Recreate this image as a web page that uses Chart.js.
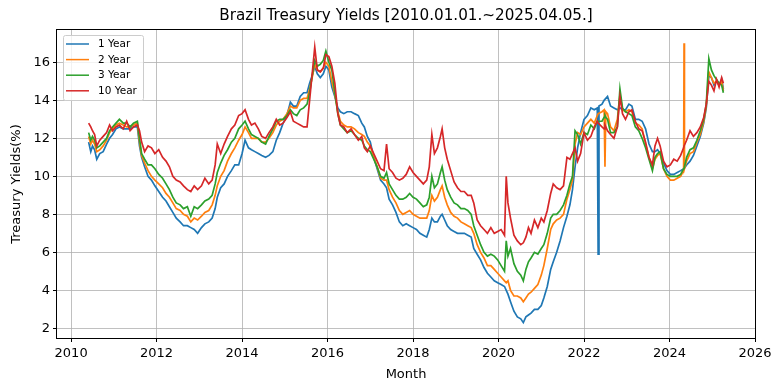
<!DOCTYPE html>
<html>
<head>
<meta charset="utf-8">
<script src="https://cdn.jsdelivr.net/npm/chart.js@4.4.1/dist/chart.umd.min.js"></script>
<style>
  body { margin: 0; background: #fff; }
  #wrap { width: 782px; height: 391px; }
</style>
</head>
<body>
<div id="wrap"><canvas id="myChart" width="782" height="391"></canvas></div>
<script>
// dates as decimal years
let fechas = [
  2010.41, 2010.46, 2010.50, 2010.55, 2010.60, 2010.67, 2010.75, 2010.83, 2010.90, 2010.97,
  2011.05, 2011.13, 2011.22, 2011.30, 2011.38, 2011.46, 2011.55, 2011.60, 2011.65, 2011.72, 2011.80, 2011.88, 2011.96,
  2012.05, 2012.14, 2012.22, 2012.30, 2012.38, 2012.46, 2012.55, 2012.63, 2012.72, 2012.80, 2012.88, 2012.96,
  2013.05, 2013.13, 2013.22, 2013.30, 2013.37, 2013.42, 2013.50, 2013.58, 2013.66, 2013.75, 2013.83, 2013.92,
  2014.00, 2014.07, 2014.15, 2014.22, 2014.30, 2014.38, 2014.46, 2014.55, 2014.63, 2014.72, 2014.80, 2014.88, 2014.96,
  2015.05, 2015.13, 2015.20, 2015.28, 2015.36, 2015.44, 2015.52, 2015.58, 2015.64, 2015.70, 2015.76, 2015.83, 2015.90, 2015.96,
  2016.03, 2016.10, 2016.17, 2016.24, 2016.30, 2016.38, 2016.46, 2016.55, 2016.63, 2016.72, 2016.80, 2016.86, 2016.93,
  2017.00, 2017.08, 2017.16, 2017.24, 2017.32, 2017.38, 2017.44, 2017.52, 2017.60, 2017.68, 2017.76, 2017.84, 2017.92,
  2018.00, 2018.08, 2018.16, 2018.24, 2018.32, 2018.38, 2018.44, 2018.50, 2018.57, 2018.64, 2018.68, 2018.74, 2018.80, 2018.88, 2018.96,
  2019.04, 2019.12, 2019.20, 2019.28, 2019.36, 2019.42, 2019.50, 2019.58, 2019.66, 2019.74, 2019.82, 2019.90, 2019.98,
  2020.06, 2020.14, 2020.18, 2020.22, 2020.28, 2020.36, 2020.44, 2020.52, 2020.58, 2020.64, 2020.70, 2020.76, 2020.84, 2020.92,
  2021.00, 2021.06, 2021.14, 2021.22, 2021.28, 2021.36, 2021.44, 2021.52, 2021.60, 2021.67, 2021.73, 2021.79, 2021.85, 2021.92,
  2022.00, 2022.08, 2022.16, 2022.24, 2022.31, 2022.33, 2022.35, 2022.42, 2022.47, 2022.49, 2022.51, 2022.55, 2022.62, 2022.70, 2022.78, 2022.84, 2022.90, 2022.97,
  2023.05, 2023.12, 2023.20, 2023.28, 2023.36, 2023.44, 2023.52, 2023.60, 2023.66, 2023.72, 2023.78, 2023.86, 2023.94,
  2024.02, 2024.10, 2024.18, 2024.26, 2024.33, 2024.34, 2024.35, 2024.40, 2024.48, 2024.56, 2024.64, 2024.72, 2024.80, 2024.86, 2024.92, 2024.98,
  2025.04, 2025.10, 2025.16, 2025.22, 2025.26
];

let y1 = [
  11.8, 11.3, 11.6, 11.4, 10.9, 11.2, 11.3, 11.7, 12.0, 12.2,
  12.5, 12.6, 12.5, 12.5, 12.5, 12.6, 12.6, 11.6, 11.0, 10.5, 10.0, 9.8, 9.5,
  9.2, 8.9, 8.7, 8.4, 8.1, 7.8, 7.6, 7.4, 7.4, 7.3, 7.2, 7.0,
  7.3, 7.5, 7.6, 7.8, 8.3, 8.9, 9.4, 9.6, 10.0, 10.3, 10.6, 10.6,
  11.2, 11.9, 11.5, 11.4, 11.3, 11.2, 11.1, 11.0, 11.1, 11.3, 11.9, 12.3, 12.8,
  13.2, 13.9, 13.7, 13.7, 14.2, 14.4, 14.4, 14.9, 15.3, 15.8, 15.4, 15.2, 15.4, 15.8,
  15.6, 14.7, 14.2, 13.6, 13.4, 13.3, 13.4, 13.4, 13.3, 13.2, 12.8, 12.6, 12.1,
  11.8, 11.0, 10.4, 9.8, 9.6, 9.4, 8.8, 8.5, 8.1, 7.6, 7.4, 7.5, 7.4,
  7.3, 7.2, 7.0, 6.9, 6.8, 7.2, 7.8, 7.6, 7.6, 7.9, 8.0, 7.7, 7.4, 7.2, 7.1,
  7.0, 7.0, 7.0, 6.9, 6.8, 6.2, 5.9, 5.6, 5.2, 4.9, 4.7, 4.5, 4.4,
  4.3, 4.2, 4.0, 3.8, 3.4, 2.9, 2.6, 2.5, 2.3, 2.6, 2.7, 2.8, 3.0, 3.0,
  3.2, 3.6, 4.2, 5.1, 5.5, 6.0, 6.6, 7.3, 7.9, 8.5, 9.3, 10.5, 11.5, 12.3,
  13.0, 13.2, 13.6, 13.5, 13.6, 5.9, 13.7, 13.8, 14.0, 14.0, 14.1, 14.2, 13.7, 13.6, 13.5, 13.6, 13.5, 13.5,
  13.8, 13.7, 13.0, 13.0, 12.9, 12.5, 11.7, 11.3, 11.3, 11.4, 11.2, 10.7, 10.3,
  10.1, 10.1, 10.2, 10.3, 10.4, 10.4, 10.4, 10.6, 10.8, 11.1, 11.6, 12.1, 12.8, 13.6, 15.3, 15.2,
  14.8, 15.0, 14.8, 15.1, 14.6
];

let y2 = [
  12.1, 11.7, 11.9, 11.7, 11.3, 11.4, 11.6, 11.9, 12.3, 12.5,
  12.7, 12.8, 12.7, 12.6, 12.6, 12.7, 12.8, 11.8, 11.1, 10.7, 10.3, 10.0, 9.8,
  9.6, 9.4, 9.1, 8.9, 8.6, 8.3, 8.2, 8.0, 7.9, 7.6, 7.8, 7.7,
  7.9, 8.1, 8.2, 8.5, 9.0, 9.5, 10.0, 10.3, 10.8, 11.2, 11.5, 11.9,
  12.2, 12.6, 12.3, 12.0, 12.0, 12.0, 11.8, 11.8, 12.0, 12.3, 12.7, 12.9, 13.0,
  13.3, 13.7, 13.6, 13.6, 14.0, 14.1, 14.1, 14.6, 15.2, 15.9, 15.6, 15.5, 15.7, 16.0,
  15.8, 15.0, 14.3, 13.4, 12.9, 12.7, 12.6, 12.6, 12.5, 12.3, 12.2, 12.1, 11.8,
  11.6, 11.0, 10.5, 9.9, 9.8, 9.8, 9.3, 8.9, 8.6, 8.2, 8.0, 8.1, 8.2,
  8.0, 7.9, 7.8, 7.8, 7.8, 8.2, 9.0, 8.7, 8.9, 9.3, 9.5, 8.9, 8.5, 8.1, 7.9,
  7.8, 7.6, 7.5, 7.4, 7.3, 7.0, 6.4, 6.0, 5.7, 5.3, 5.3, 5.1, 4.9,
  4.7, 4.5, 4.4, 4.5, 4.0, 3.7, 3.7, 3.6, 3.4, 3.6, 3.8, 3.9, 4.1, 4.3,
  4.8, 5.3, 6.2, 7.2, 7.5, 7.7, 7.8, 8.0, 8.8, 9.3, 9.8, 11.7, 12.3, 12.2,
  12.6, 12.8, 13.0, 12.8, 13.2, 13.3, 13.3, 13.4, 13.5, 10.5, 13.4, 13.3, 12.6, 12.4, 13.0, 14.3, 13.5, 13.4,
  13.5, 13.4, 12.8, 12.7, 12.5, 11.7, 11.0, 10.4, 10.9, 11.1, 11.2, 10.4, 10.0,
  9.8, 9.8, 9.9, 10.0, 10.3, 17.0, 10.4, 10.8, 11.2, 11.3, 11.8, 12.2, 12.9, 13.7, 15.5, 15.2,
  14.9, 15.0, 14.8, 15.0, 14.5
];

let y3 = [
  12.3, 11.9, 12.1, 11.9, 11.5, 11.6, 11.8, 12.0, 12.4, 12.6,
  12.8, 13.0, 12.8, 12.8, 12.6, 12.8, 12.9, 12.0, 11.2, 10.9, 10.6, 10.6, 10.4,
  10.1, 9.9, 9.6, 9.3, 8.9, 8.6, 8.5, 8.3, 8.4, 7.9, 8.4, 8.3,
  8.5, 8.7, 8.8, 9.0, 9.6, 10.2, 10.7, 11.1, 11.4, 11.8, 12.0, 12.5,
  12.7, 12.9, 12.5, 12.2, 12.1, 12.0, 11.8, 11.7, 12.1, 12.5, 12.9, 13.0, 13.0,
  13.2, 13.5, 13.3, 13.2, 13.5, 13.6, 13.8, 14.4, 15.3, 16.1, 15.8, 15.9, 16.1, 16.6,
  16.0, 15.6, 14.4, 13.3, 12.7, 12.5, 12.3, 12.4, 12.2, 12.0, 11.9, 11.6, 11.4,
  11.3, 10.9, 10.5, 10.0, 9.9, 10.2, 9.6, 9.3, 9.0, 8.8, 8.8, 8.9, 9.1,
  8.9, 8.8, 8.6, 8.4, 8.5, 8.9, 10.0, 9.4, 9.6, 10.2, 10.5, 9.8, 9.3, 8.9, 8.6,
  8.5, 8.3, 8.3, 8.2, 8.0, 7.4, 6.9, 6.4, 6.0, 5.8, 5.9, 5.8, 5.6,
  5.3, 5.0, 6.6, 5.8, 6.2, 5.4, 5.0, 4.8, 4.5, 5.1, 5.5, 5.7, 6.0, 5.9,
  6.2, 6.4, 7.0, 7.8, 8.0, 8.0, 8.2, 8.5, 9.0, 9.6, 10.0, 12.4, 12.2, 11.7,
  12.3, 12.2, 12.7, 12.5, 12.9, 12.9, 12.9, 12.9, 13.1, 13.2, 13.1, 13.0, 12.3, 12.3, 12.6, 14.6, 13.6, 13.4,
  13.3, 13.2, 12.6, 12.4, 12.0, 11.5, 10.9, 10.3, 11.0, 11.2, 11.3, 10.4, 10.1,
  10.0, 10.0, 10.0, 10.1, 10.4, 10.4, 10.4, 11.0, 11.4, 11.5, 11.9, 12.4, 13.0, 13.8, 16.2, 15.6,
  15.3, 15.1, 14.9, 14.8, 14.4
];

let y10 = [
  12.8, 12.6, 12.4, 12.2, 11.6, 11.9, 12.1, 12.3, 12.7, 12.4,
  12.6, 12.7, 12.5, 12.9, 12.4, 12.6, 12.7, 12.4, 11.8, 11.3, 11.6, 11.5, 11.2,
  11.4, 11.0, 10.8, 10.5, 10.0, 9.8, 9.7, 9.5, 9.3, 9.2, 9.5, 9.3,
  9.5, 9.9, 9.6, 9.8, 10.6, 11.7, 11.2, 11.7, 12.1, 12.5, 12.7, 13.2,
  13.3, 13.5, 13.0, 12.7, 12.8, 12.5, 12.1, 12.0, 12.3, 12.6, 13.0, 12.7, 12.8,
  13.1, 13.4, 12.9, 12.8, 12.7, 12.6, 12.6, 14.0, 15.4, 16.8, 15.6, 15.5, 15.7, 16.4,
  16.3, 15.8, 14.9, 13.3, 12.7, 12.6, 12.3, 12.5, 12.2, 11.9, 12.1, 11.5, 11.3,
  11.6, 11.2, 10.8, 10.4, 10.3, 11.7, 10.4, 10.2, 9.9, 9.8, 9.9, 10.1, 10.5,
  10.2, 10.0, 9.8, 9.6, 9.8, 10.5, 12.2, 11.2, 11.5, 12.1, 12.5, 11.5, 10.9, 10.3, 9.7,
  9.4, 9.2, 9.2, 9.0, 9.0, 8.6, 7.7, 7.4, 7.2, 7.0, 7.3, 7.0, 7.1,
  7.2, 6.9, 10.0, 8.6, 7.8, 6.9, 6.6, 6.4, 6.5, 6.8, 7.3, 7.0, 7.7, 7.3,
  7.8, 7.6, 8.2, 9.1, 9.6, 9.4, 9.3, 9.5, 11.0, 10.9, 11.2, 11.5, 10.8, 11.2,
  12.3, 11.9, 12.1, 12.6, 12.9, 12.8, 12.8, 12.6, 12.5, 12.7, 12.6, 12.4, 12.2, 12.0, 12.6, 14.2, 13.3, 13.0,
  13.4, 13.5, 12.9, 12.5, 12.4, 11.8, 11.0, 10.6, 11.6, 12.0, 11.6, 10.8, 10.5,
  10.6, 10.9, 10.8, 11.1, 11.5, 11.6, 11.6, 11.9, 12.4, 12.1, 12.3, 12.6, 13.1, 13.8, 15.0, 14.8,
  14.5, 15.1, 14.7, 15.2, 14.9
];

let etiquetas = ['1 Year', '2 Year', '3 Year', '10 Year'];
let colores = ['#1f77b4', '#ff7f0e', '#2ca02c', '#d62728'];
let series = [y1, y2, y3, y10];
let ticksX = [2010, 2012, 2014, 2016, 2018, 2020, 2022, 2024, 2026];
let ticksY = [2, 4, 6, 8, 10, 12, 14, 16];

const fuente = 'DejaVu Sans';

// frame and legend like matplotlib
const marco = {
  id: 'marco',
  afterDatasetsDraw(chart) {
    const ctx = chart.ctx;
    const a = chart.chartArea;
    ctx.save();
    ctx.strokeStyle = '#000';
    ctx.lineWidth = 1;
    ctx.strokeRect(Math.round(a.left) - 0.5, Math.round(a.top) - 0.5, Math.round(a.right - a.left) + 1, Math.round(a.bottom - a.top) + 1);

    // legend box
    const bx = 63.5, by = 35.5, bw = 80, bh = 65;
    ctx.beginPath();
    ctx.roundRect(bx, by, bw, bh, 2);
    ctx.fillStyle = 'rgba(255,255,255,0.8)';
    ctx.fill();
    ctx.strokeStyle = '#cccccc';
    ctx.stroke();
    ctx.font = '10.5px "' + fuente + '"';
    ctx.textBaseline = 'middle';
    ctx.textAlign = 'left';
    for (let i = 0; i < etiquetas.length; i++) {
      const yy = 44 + i * 15.6;
      ctx.beginPath();
      ctx.moveTo(66, yy);
      ctx.lineTo(89, yy);
      ctx.strokeStyle = colores[i];
      ctx.lineWidth = 1.5;
      ctx.stroke();
      ctx.fillStyle = '#000';
      ctx.fillText(etiquetas[i], 98, yy + 0.5);
    }
    ctx.restore();
  }
};

let datasets = [];
for (let i = 0; i < series.length; i++) {
  datasets.push({
    label: etiquetas[i],
    data: fechas.map((f, k) => ({ x: f, y: series[i][k] })),
    borderColor: colores[i],
    backgroundColor: colores[i],
    borderWidth: 1.7,
    pointRadius: 0,
    tension: 0,
    order: series.length - i
  });
}

let ctx = document.getElementById('myChart').getContext('2d');
let chart = new Chart(ctx, {
  type: 'line',
  data: { datasets: datasets },
  plugins: [marco],
  options: {
    responsive: false,
    devicePixelRatio: 1,
    animation: false,
    layout: { padding: { left: 0, right: 27, top: 0, bottom: 0 } },
    plugins: {
      legend: { display: false },
      tooltip: { enabled: false },
      title: {
        display: true,
        text: 'Brazil Treasury Yields [2010.01.01.~2025.04.05.]',
        color: '#000',
        fullSize: false,
        font: { family: fuente, size: 15.2, weight: 'normal' },
        padding: { top: 7.4, bottom: 4.4 }
      }
    },
    scales: {
      x: {
        type: 'linear',
        min: 2009.67,
        max: 2026.0,
        afterBuildTicks: (axis) => { axis.ticks = ticksX.map(v => ({ value: v })); },
        afterFit: (axis) => { axis.height = 53; },
        ticks: {
          color: '#000',
          font: { family: fuente, size: 13 },
          padding: 4,
          maxRotation: 0,
          callback: (v) => String(v)
        },
        grid: { color: '#b0b0b0', lineWidth: 0.8, tickColor: '#000', tickLength: 4, tickWidth: 1 },
        border: { display: false },
        title: {
          display: true,
          text: 'Month',
          color: '#000',
          font: { family: fuente, size: 13 },
          padding: { top: 0, bottom: 9 }
        }
      },
      y: {
        type: 'linear',
        min: 1.49,
        max: 17.70,
        afterBuildTicks: (axis) => { axis.ticks = ticksY.map(v => ({ value: v })); },
        afterFit: (axis) => { axis.width = 57; },
        ticks: {
          color: '#000',
          font: { family: fuente, size: 13 },
          padding: 3,
          callback: (v) => String(v)
        },
        grid: { color: '#b0b0b0', lineWidth: 0.8, tickColor: '#000', tickLength: 4, tickWidth: 1 },
        border: { display: false },
        title: {
          display: true,
          text: 'Treasury Yields(%)',
          color: '#000',
          font: { family: fuente, size: 13 },
          padding: { top: 9, bottom: 0 }
        }
      }
    }
  }
});
</script>
</body>
</html>
